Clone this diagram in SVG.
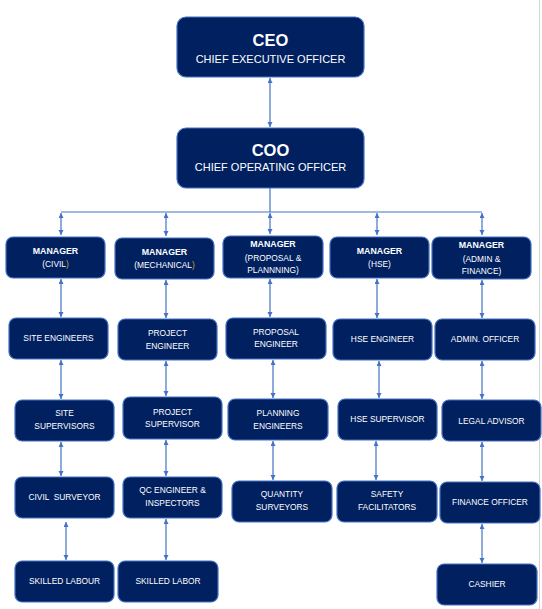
<svg xmlns="http://www.w3.org/2000/svg" width="542" height="609" viewBox="0 0 542 609">
<style>
.box{fill:#002060;stroke:#4472C4;stroke-width:1.2}
text{font-family:"Liberation Sans",Arial,sans-serif;fill:#ffffff;text-anchor:middle}
.t{font-size:8.4px}
.b{font-weight:bold;font-size:8.8px}
.big{font-size:16.5px;font-weight:bold}
.sub{font-size:11px}
.gold{fill:#C9A227}
.c line{stroke:#4472C4;stroke-width:1.2;fill:none}
.a{marker-start:url(#ah);marker-end:url(#ah)}
</style>
<defs>
<marker id="ah" markerUnits="userSpaceOnUse" markerWidth="6" markerHeight="6" refX="5" refY="2.5" orient="auto-start-reverse"><path d="M0,0 L5,2.5 L0,5 z" fill="#4472C4"/></marker>
</defs>
<rect width="542" height="609" fill="#ffffff"/>
<line x1="539.5" y1="0" x2="539.5" y2="609" stroke="#d4d4d4" stroke-width="1"/>
<g id="connectors" class="c">
<line class="a" x1="270" y1="78" x2="270" y2="127"/>
<line x1="270" y1="188" x2="270" y2="212"/>
<line x1="61" y1="212" x2="482" y2="212"/>
<line class="a" x1="61" y1="213" x2="61" y2="235"/>
<line class="a" x1="166" y1="213" x2="166" y2="236"/>
<line class="a" x1="270" y1="213" x2="270" y2="234"/>
<line class="a" x1="377" y1="213" x2="377" y2="235"/>
<line class="a" x1="482" y1="213" x2="482" y2="235"/>
<line class="a" x1="61" y1="279" x2="61" y2="317"/>
<line class="a" x1="166" y1="280" x2="166" y2="318"/>
<line class="a" x1="270" y1="279" x2="270" y2="317"/>
<line class="a" x1="377" y1="279" x2="377" y2="318"/>
<line class="a" x1="482" y1="280" x2="482" y2="318"/>
<line class="a" x1="61" y1="360" x2="61" y2="399"/>
<line class="a" x1="166" y1="361" x2="166" y2="396"/>
<line class="a" x1="273" y1="360" x2="273" y2="398"/>
<line class="a" x1="379" y1="361" x2="379" y2="398"/>
<line class="a" x1="482" y1="361" x2="482" y2="399"/>
<line class="a" x1="61" y1="442" x2="61" y2="476"/>
<line class="a" x1="166" y1="440" x2="166" y2="476"/>
<line class="a" x1="273" y1="441" x2="273" y2="480"/>
<line class="a" x1="376" y1="441" x2="376" y2="480"/>
<line class="a" x1="482" y1="442" x2="482" y2="481"/>
<line class="a" x1="66" y1="522" x2="66" y2="560"/>
<line class="a" x1="166" y1="519" x2="166" y2="560"/>
<line class="a" x1="482" y1="524" x2="482" y2="563"/>
</g>
<g id="ceo"><rect class="box" x="177" y="17" width="187" height="60" rx="9"/><text class="big" x="270.5" y="46">CEO</text><text class="sub" x="270.5" y="63">CHIEF EXECUTIVE OFFICER</text></g>
<g id="coo"><rect class="box" x="177" y="128" width="187" height="60" rx="9"/><text class="big" x="270.5" y="156">COO</text><text class="sub" x="270.5" y="171">CHIEF OPERATING OFFICER</text></g>
<g id="mgr-civil"><rect class="box" x="6" y="237" width="99" height="41" rx="7"/><text class="b" x="55.5" y="254">MANAGER</text><text class="t" x="55.5" y="267">(CIVIL<tspan class="gold">)</tspan></text></g>
<g id="mgr-mech"><rect class="box" x="115" y="238" width="99" height="41" rx="7"/><text class="b" x="164.5" y="255">MANAGER</text><text class="t" x="164.5" y="268">(MECHANICAL<tspan class="gold">)</tspan></text></g>
<g id="mgr-prop"><rect class="box" x="223" y="236" width="100" height="42" rx="7"/><text class="b" x="273" y="247">MANAGER</text><text class="t" x="273" y="261">(PROPOSAL &amp;</text><text class="t" x="273" y="273">PLANNNING)</text></g>
<g id="mgr-hse"><rect class="box" x="330" y="237" width="99" height="41" rx="7"/><text class="b" x="379.5" y="254">MANAGER</text><text class="t" x="379.5" y="267">(HSE)</text></g>
<g id="mgr-admin"><rect class="box" x="432" y="237" width="99" height="42" rx="7"/><text class="b" x="481.5" y="248">MANAGER</text><text class="t" x="481.5" y="262">(ADMIN &amp;</text><text class="t" x="481.5" y="274">FINANCE)</text></g>
<g id="site-engineers"><rect class="box" x="9" y="318" width="99" height="41" rx="7"/><text class="t" x="58.5" y="341">SITE ENGINEERS</text></g>
<g id="project-engineer"><rect class="box" x="118" y="319" width="99" height="41" rx="7"/><text class="t" x="167.5" y="336">PROJECT</text><text class="t" x="167.5" y="349">ENGINEER</text></g>
<g id="proposal-engineer"><rect class="box" x="226" y="318" width="100" height="41" rx="7"/><text class="t" x="276" y="335">PROPOSAL</text><text class="t" x="276" y="347">ENGINEER</text></g>
<g id="hse-engineer"><rect class="box" x="333" y="319" width="99" height="41" rx="7"/><text class="t" x="382.5" y="342">HSE ENGINEER</text></g>
<g id="admin-officer"><rect class="box" x="435" y="319" width="100" height="41" rx="7"/><text class="t" x="485" y="342">ADMIN. OFFICER</text></g>
<g id="site-supervisors"><rect class="box" x="15" y="400" width="99" height="41" rx="7"/><text class="t" x="64.5" y="416">SITE</text><text class="t" x="64.5" y="429">SUPERVISORS</text></g>
<g id="project-supervisor"><rect class="box" x="123" y="397" width="99" height="42" rx="7"/><text class="t" x="172.5" y="415">PROJECT</text><text class="t" x="172.5" y="427">SUPERVISOR</text></g>
<g id="planning-engineers"><rect class="box" x="228" y="399" width="100" height="41" rx="7"/><text class="t" x="278" y="416">PLANNING</text><text class="t" x="278" y="429">ENGINEERS</text></g>
<g id="hse-supervisor"><rect class="box" x="338" y="399" width="99" height="41" rx="7"/><text class="t" x="387.5" y="422">HSE SUPERVISOR</text></g>
<g id="legal-advisor"><rect class="box" x="442" y="400" width="99" height="41" rx="7"/><text class="t" x="491.5" y="424">LEGAL ADVISOR</text></g>
<g id="civil-surveyor"><rect class="box" x="15" y="477" width="99" height="41" rx="7"/><text class="t" x="64.5" y="500" xml:space="preserve">CIVIL  SURVEYOR</text></g>
<g id="qc-engineer"><rect class="box" x="123" y="477" width="99" height="41" rx="7"/><text class="t" x="172.5" y="493">QC ENGINEER &amp;</text><text class="t" x="172.5" y="506">INSPECTORS</text></g>
<g id="quantity-surveyors"><rect class="box" x="232" y="481" width="100" height="41" rx="7"/><text class="t" x="282" y="497">QUANTITY</text><text class="t" x="282" y="510">SURVEYORS</text></g>
<g id="safety-facilitators"><rect class="box" x="337" y="481" width="100" height="41" rx="7"/><text class="t" x="387" y="497">SAFETY</text><text class="t" x="387" y="510">FACILITATORS</text></g>
<g id="finance-officer"><rect class="box" x="440" y="482" width="100" height="41" rx="7"/><text class="t" x="490" y="505">FINANCE OFFICER</text></g>
<g id="skilled-labour"><rect class="box" x="15" y="561" width="99" height="41" rx="7"/><text class="t" x="64.5" y="584">SKILLED LABOUR</text></g>
<g id="skilled-labor"><rect class="box" x="118" y="561" width="100" height="41" rx="7"/><text class="t" x="168" y="584">SKILLED LABOR</text></g>
<g id="cashier"><rect class="box" x="437" y="564" width="100" height="41" rx="7"/><text class="t" x="487" y="587">CASHIER</text></g>
</svg>
